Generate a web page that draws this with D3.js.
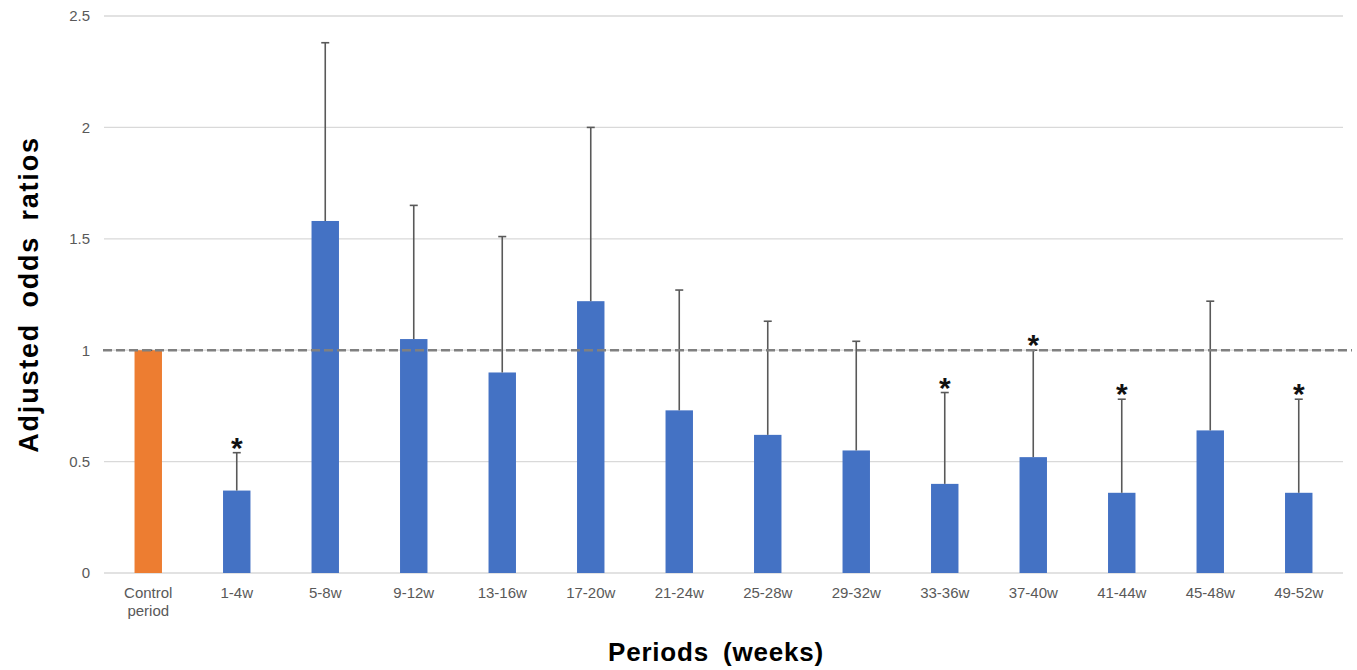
<!DOCTYPE html>
<html>
<head>
<meta charset="utf-8">
<script src="https://cdn.jsdelivr.net/npm/d3@7/dist/d3.min.js"></script>
<style>
  body { margin: 0; background: #fff; }
  text { font-family: Arial, "Liberation Sans", sans-serif; }
</style>
</head>
<body>
<div id="chart"></div>
<script>
//data
const periods = ['Control period', '1-4w', '5-8w', '9-12w', '13-16w', '17-20w', '21-24w',
    '25-28w', '29-32w', '33-36w', '37-40w', '41-44w', '45-48w', '49-52w'];
const odds = [1.0, 0.37, 1.58, 1.05, 0.90, 1.22, 0.73, 0.62, 0.55, 0.40, 0.52, 0.36, 0.64, 0.36];
const upper = [1.0, 0.54, 2.38, 1.65, 1.51, 2.0, 1.27, 1.13, 1.04, 0.81, 1.0, 0.78, 1.22, 0.78];
const significant = [false, true, false, false, false, false, false, false, false, true, true, true, false, true];
const yTicks = [0, 0.5, 1, 1.5, 2, 2.5];

const width = 1357, height = 670;
const margin = {top: 16, right: 14, bottom: 97, left: 104};

let svg = d3.select('#chart')
    .append('svg')
    .attr('width', width)
    .attr('height', height);

let x = d3.scaleBand()
    .domain(periods)
    .range([margin.left, width - margin.right])
    .paddingInner(0.69)
    .paddingOuter(0.345);

let y = d3.scaleLinear()
    .domain([0, 2.5])
    .range([height - margin.bottom, margin.top]);

//gridlines
svg.append('g')
    .selectAll('line')
    .data(yTicks)
    .enter().append('line')
    .attr('x1', margin.left)
    .attr('x2', width - margin.right)
    .attr('y1', function(d) { return y(d); })
    .attr('y2', function(d) { return y(d); })
    .attr('stroke', '#d9d9d9')
    .attr('stroke-width', 1.3);

//y axis labels
let yAxis = svg.append('g')
    .attr('transform', `translate(${margin.left}, 0)`)
    .call(d3.axisLeft(y).tickValues(yTicks).tickSize(0).tickPadding(14).tickFormat(d3.format('')));
yAxis.select('.domain').remove();
yAxis.selectAll('text')
    .style('font-size', '15px')
    .attr('fill', '#595959');

//x axis labels
let xAxis = svg.append('g')
    .attr('transform', `translate(0, ${height - margin.bottom})`)
    .call(d3.axisBottom(x).tickSize(0).tickPadding(14));
xAxis.select('.domain').remove();
xAxis.selectAll('text')
    .style('font-size', '15px')
    .attr('fill', '#595959')
    .each(function(d) {
        let words = d === 'Control period' ? ['Control', 'period'] : [d];
        let t = d3.select(this).text(null);
        words.forEach(function(w, i) {
            t.append('tspan').attr('x', 0).attr('dy', i === 0 ? '0.71em' : '1.2em').text(w);
        });
    });

//bars
svg.append('g')
    .selectAll('rect')
    .data(periods)
    .enter().append('rect')
    .attr('x', function(d) { return x(d); })
    .attr('width', x.bandwidth())
    .attr('y', function(d, i) { return y(odds[i]); })
    .attr('height', function(d, i) { return y(0) - y(odds[i]); })
    .attr('fill', function(d, i) { return i === 0 ? '#ed7d31' : '#4472c4'; });

//error bars
let err = svg.append('g')
    .selectAll('g')
    .data(periods)
    .enter().append('g')
    .attr('transform', function(d) { return `translate(${x(d) + x.bandwidth() / 2}, 0)`; });
err.append('line')
    .attr('y1', function(d, i) { return y(odds[i]); })
    .attr('y2', function(d, i) { return y(upper[i]); })
    .attr('stroke', '#595959')
    .attr('stroke-width', 1.6);
err.append('line')
    .attr('x1', -4)
    .attr('x2', 4)
    .attr('y1', function(d, i) { return y(upper[i]); })
    .attr('y2', function(d, i) { return y(upper[i]); })
    .attr('stroke', '#595959')
    .attr('stroke-width', 1.6);

//reference line at 1
svg.append('line')
    .attr('x1', margin.left - 1)
    .attr('x2', width - 5)
    .attr('y1', y(1))
    .attr('y2', y(1))
    .attr('stroke', '#808080')
    .attr('stroke-width', 2.5)
    .attr('stroke-dasharray', '9,4');

//asterisks
err.filter(function(d, i) { return significant[i]; })
    .append('text')
    .attr('y', function(d) { return y(upper[periods.indexOf(d)]) + 5; })
    .attr('text-anchor', 'middle')
    .style('font-size', '30px')
    .style('font-weight', 'bold')
    .attr('fill', '#111')
    .text('*');

//axis titles
svg.append('text')
    .attr('transform', `translate(38, ${(margin.top + height - margin.bottom) / 2}) rotate(-90)`)
    .attr('text-anchor', 'middle')
    .style('font-size', '27px')
    .style('font-weight', 'bold')
    .style('letter-spacing', '1.8px')
    .style('word-spacing', '6px')
    .text('Adjusted odds ratios');

svg.append('text')
    .attr('x', 716)
    .attr('y', 661)
    .attr('text-anchor', 'middle')
    .style('font-size', '26px')
    .style('font-weight', 'bold')
    .style('letter-spacing', '0.8px')
    .style('word-spacing', '6px')
    .text('Periods (weeks)');
</script>
</body>
</html>
